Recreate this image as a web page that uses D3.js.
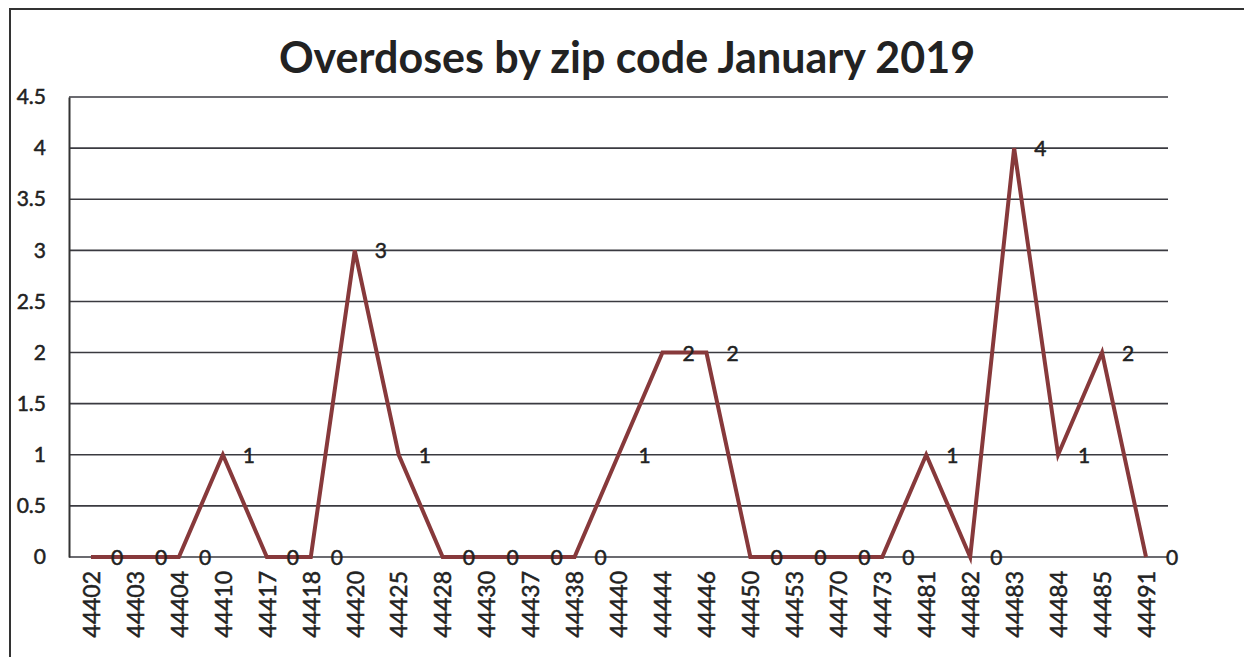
<!DOCTYPE html>
<html>
<head>
<meta charset="utf-8">
<script src="https://cdn.jsdelivr.net/npm/d3@7"></script>
<style>
  html, body { margin: 0; padding: 0; background: #fff; }
  svg { display: block; }
  text { font-family: Lato, "Open Sans", sans-serif; fill: #222; }
  .lbl { stroke: #222; stroke-width: 0.5px; }
</style>
</head>
<body>
<svg id="chart" width="1244" height="657"></svg>
<script>
// Zip codes along the x axis
const zipCodes = ["44402","44403","44404","44410","44417","44418","44420","44425",
  "44428","44430","44437","44438","44440","44444","44446","44450","44453","44470",
  "44473","44481","44482","44483","44484","44485","44491"];
// Overdose counts per zip code
const overdoses = [0,0,0,1,0,0,3,1,0,0,0,0,1,2,2,0,0,0,0,1,0,4,1,2,0];
// Value-axis ticks
const yTicks = [0,0.5,1,1.5,2,2.5,3,3.5,4,4.5];
const chartTitle = "Overdoses by zip code January 2019";

const svg = d3.select("#chart");
const W = 1244, H = 657;
const plot = { left: 69, right: 1168, top: 97, bottom: 557 };

// outer frame (top and left edges)
svg.append("path")
  .attr("d", `M10,${H} L10,9 L${W},9`)
  .attr("fill", "none").attr("stroke", "#333").attr("stroke-width", 2);

const x = d3.scalePoint().domain(zipCodes).range([plot.left, plot.right]).padding(0.5);
const y = d3.scaleLinear().domain([0, 4.5]).range([plot.bottom, plot.top]);

// horizontal gridlines
svg.append("g").selectAll("line").data(yTicks).join("line")
  .attr("x1", plot.left).attr("x2", plot.right)
  .attr("y1", d => y(d)).attr("y2", d => y(d))
  .attr("stroke", "#3a3a40").attr("stroke-width", 1.6);

// y axis
const yAxis = d3.axisLeft(y).tickValues(yTicks).tickSize(0).tickPadding(23)
  .tickFormat(d => String(d));
const gy = svg.append("g").attr("transform", `translate(${plot.left},0)`).call(yAxis);
gy.select(".domain").attr("stroke", "#333").attr("stroke-width", 2);
gy.selectAll("text").attr("class", "lbl").style("font-size", "21px").attr("fill", "#222");

// x axis with rotated zip code labels
const xAxis = d3.axisBottom(x).tickSize(0).tickPadding(0);
const gx = svg.append("g").attr("transform", `translate(0,${plot.bottom})`).call(xAxis);
gx.select(".domain").remove();
gx.selectAll("text")
  .attr("class", "lbl")
  .style("font-size", "23px")
  .attr("fill", "#222")
  .attr("text-anchor", "end")
  .attr("dy", "0.36em")
  .attr("transform", "translate(0,14) rotate(-90)")
  .attr("x", 0).attr("y", 0);

// the line
const line = d3.line().x((d, i) => x(zipCodes[i])).y(d => y(d));
svg.append("path")
  .datum(overdoses)
  .attr("d", line)
  .attr("fill", "none")
  .attr("stroke", "#87393b")
  .attr("stroke-width", 4)
  .attr("stroke-linejoin", "miter");

// data labels to the right of each point
svg.append("g").selectAll("text").data(overdoses).join("text")
  .attr("class", "lbl")
  .attr("x", (d, i) => x(zipCodes[i]) + 20)
  .attr("y", d => y(d))
  .attr("dy", "0.38em")
  .style("font-size", "21px")
  .attr("fill", "#222")
  .text(d => d);

// title
svg.append("text")
  .attr("x", 627).attr("y", 73)
  .attr("text-anchor", "middle")
  .style("font-size", "43px").style("font-weight", "bold")
  .attr("fill", "#262626")
  .text(chartTitle);
</script>
</body>
</html>
